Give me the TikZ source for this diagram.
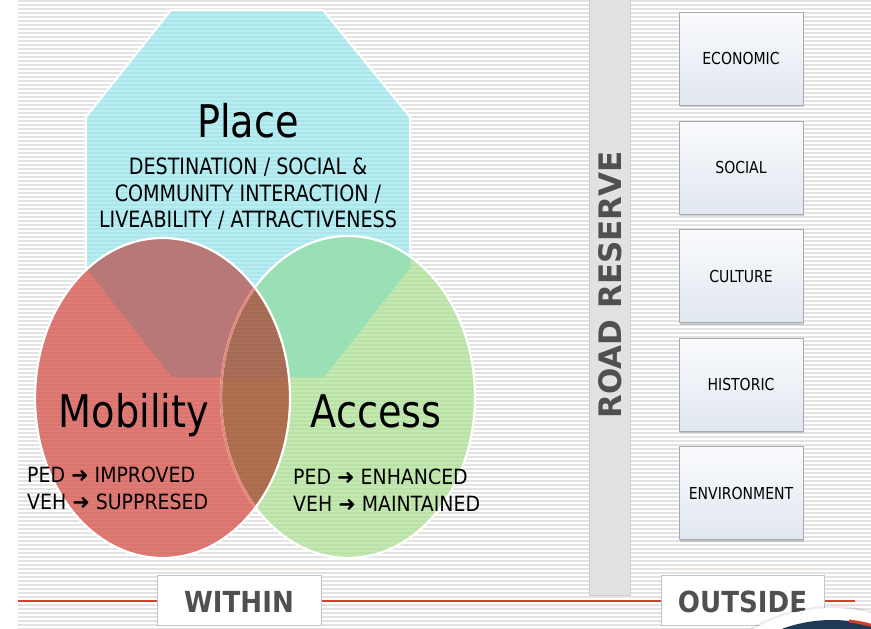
\documentclass[tikz,border=0pt]{standalone}
\usepackage{fontspec}
\setmainfont{DejaVu Sans}[FakeStretch=0.85]
\newfontfamily\headfont{DejaVu Sans}[FakeStretch=0.9]
\newfontfamily\roadfont{DejaVu Sans}
\usetikzlibrary{shadows}

\definecolor{placecyan}{HTML}{B5EEF3}
\definecolor{mobred}{HTML}{E07A74}
\definecolor{mobredP}{HTML}{B97878}
\definecolor{accgreen}{HTML}{C2EAB0}
\definecolor{accgreenP}{HTML}{9AE0B4}
\definecolor{lensbrown}{HTML}{B0704F}
\definecolor{lensbrownP}{HTML}{AA6F58}
\definecolor{lensedge}{HTML}{E3877D}
\definecolor{stripe}{HTML}{E3E3E3}
\definecolor{labelgray}{HTML}{505050}
\definecolor{boxedge}{HTML}{BAC6D2}
\definecolor{catedge}{HTML}{A6A9AE}
\definecolor{roadfill}{HTML}{E2E2E2}
\definecolor{roadedge}{HTML}{C6CED8}
\definecolor{rulered}{HTML}{D5402E}
\definecolor{logonavy}{HTML}{1E3A56}
\definecolor{boxtop}{HTML}{F2F5F9}
\definecolor{boxbot}{HTML}{E1E7F0}

\tikzset{
  fs/.style={font=\fontsize{#1}{#1}\selectfont},
  bigword/.style={anchor=base, inner sep=0pt, fs=45},
  placeline/.style={anchor=base, inner sep=0pt, fs=22.5},
  effect/.style={anchor=base west, inner sep=0pt,
    font=\headfont\fontsize{21}{21}\selectfont},
  catbox/.style={draw=catedge, line width=0.8pt, top color=white!60!boxtop,
    bottom color=boxbot, minimum width=124pt, minimum height=93pt,
    inner sep=0pt, fs=16.5,
    drop shadow={shadow xshift=1pt, shadow yshift=-2pt, opacity=0.35}},
  zonebox/.style={draw=boxedge, line width=1pt, fill=white, minimum height=50pt,
    inner sep=0pt},
  zonetext/.style={anchor=base, inner sep=0pt, text=labelgray,
    font=\headfont\bfseries\fontsize{29}{29}\selectfont},
  whiteedge/.style={draw=white, line width=2.2pt},
}
\newcommand\heavyarrow{{\roadfont ➜}}

\def\placepath{(171,10) -- (323,10) -- (410,117) -- (410,268) -- (324,377) -- (172,377) -- (86,268) -- (86,117) -- cycle}
\def\mobpath{(162.5,398) ellipse [x radius=127.5pt, y radius=160pt]}
\def\accpath{(348,397) ellipse [x radius=127pt, y radius=161pt]}

\begin{document}
\begin{tikzpicture}[x=1pt,y=-1pt]
\useasboundingbox (0,0) rectangle (871,629);
\fill[white] (0,0) rectangle (871,629);

% pinstripe background
\foreach \yy in {1,5,...,629}
  \draw[stripe, line width=1.3pt] (18,\yy) -- (871,\yy);

% the three overlapping fields
\path[fill=placecyan, whiteedge] \placepath;
\fill[accgreen] \accpath;
\fill[mobred] \mobpath;
\begin{scope}
  \clip \placepath;
  \fill[accgreenP] \accpath;
  \fill[mobredP] \mobpath;
\end{scope}
\begin{scope}
  \clip \accpath;
  \fill[lensbrown] \mobpath;
  \begin{scope}
    \clip \placepath;
    \fill[lensbrownP] \mobpath;
  \end{scope}
\end{scope}

% faint stripes across the union of the fields
\begin{scope}
  \clip \placepath \mobpath \accpath;
  \foreach \yy in {1,5,...,565}
    \draw[black, opacity=0.035, line width=1.3pt] (30,\yy) -- (480,\yy);
\end{scope}

% outlines
\path[whiteedge] \accpath;
\begin{scope}
  \clip \mobpath;
  \path[draw=lensedge, line width=2.2pt] \accpath;
\end{scope}
\path[whiteedge] \mobpath;

% field texts
\node[bigword] (placetitle) at (248,137) {Place};
\node[placeline] (place1) at (248,174) {DESTINATION / SOCIAL \&};
\node[placeline] (place2) at (248,201) {COMMUNITY INTERACTION /};
\node[placeline] (place3) at (248,227) {LIVEABILITY / ATTRACTIVENESS};

\node[bigword] (mobtitle) at (134,427) {Mobility};
\node[bigword] (acctitle) at (376,427) {Access};

\node[effect] (mob1) at (27,482) {PED \heavyarrow{} IMPROVED};
\node[effect] (mob2) at (27,509) {VEH \heavyarrow{} SUPPRESED};
\node[effect] (acc1) at (293,484) {PED \heavyarrow{} ENHANCED};
\node[effect] (acc2) at (293,511) {VEH \heavyarrow{} MAINTAINED};

% road reserve strip
\node[draw=roadedge, line width=1pt, fill=roadfill, minimum width=41pt,
      minimum height=600pt, inner sep=0pt] (road) at (609.5,295) {};
\node[rotate=90, inner sep=0pt, text=labelgray,
      font=\roadfont\bfseries\fontsize{31}{31}\selectfont] (roadtext) at (610,285) {ROAD RESERVE};

% outside categories
\node[catbox] (econ) at (741,58.5) {ECONOMIC};
\node[catbox] (soc)  at (741,167.5) {SOCIAL};
\node[catbox] (cult) at (741,276) {CULTURE};
\node[catbox] (hist) at (741,384.5) {HISTORIC};
\node[catbox] (env)  at (741,493) {ENVIRONMENT};

% baseline rule and zone labels
\draw[rulered, line width=1.3pt] (18,601) -- (855,601);
\node[zonebox, minimum width=164pt] (within) at (239,600) {};
\node[zonetext] (withintext) at (239,612) {WITHIN};
\node[zonebox, minimum width=163pt] (outside) at (742.5,600) {};
\node[zonetext] (outsidetext) at (742.5,612) {OUTSIDE};

% corner emblem
\begin{scope}
  \clip (0,0) rectangle (871,629);
  \fill[black, opacity=0.08] (832,765) circle (159pt);
  \fill[white] (832,765) circle (157pt);
  \fill[logonavy] (832,765) circle (145pt);
  \begin{scope}
    \clip (849,600) rectangle (871,629);
    \draw[rulered, line width=3pt] (832,765) circle (145pt);
  \end{scope}
\end{scope}
\end{tikzpicture}
\end{document}
